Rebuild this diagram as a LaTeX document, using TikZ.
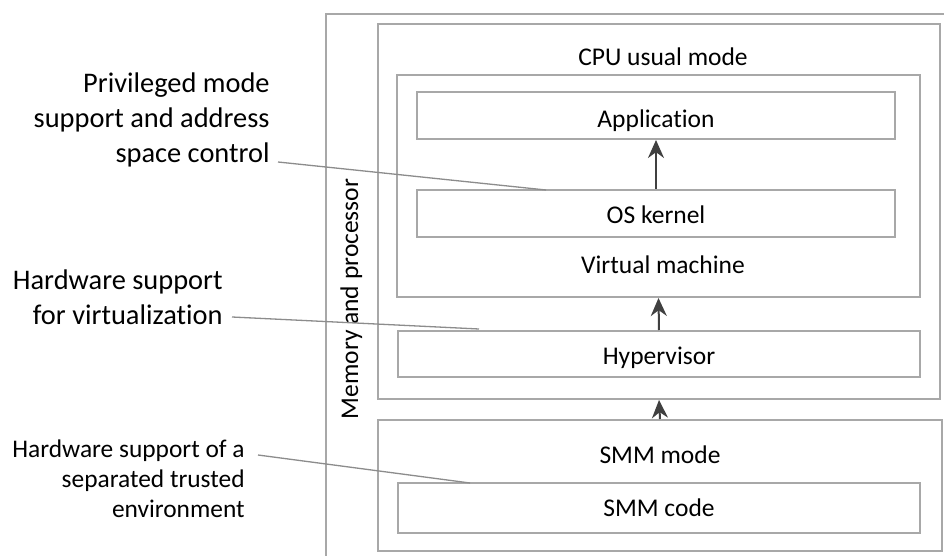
\documentclass[tikz,border=0pt]{standalone}
\usepackage{fontspec}
\setmainfont[Ligatures=NoCommon]{Carlito}
\usetikzlibrary{fit,arrows.meta}
\definecolor{boxline}{HTML}{A8A8A8}
\definecolor{leader}{HTML}{8C8C8C}
\definecolor{arrowc}{HTML}{404040}
\tikzset{
  layer/.style={draw=boxline, line width=1pt, inner sep=0pt},
  lbl/.style={font=\fontsize{12.75}{15}\selectfont, inner sep=0pt, text height=8.2pt, text depth=0pt},
  note/.style={font=\fontsize{14.2}{17.5}\selectfont, align=right, inner sep=0pt, anchor=east},
  notesmall/.style={font=\fontsize{12.7}{15}\selectfont, align=right, inner sep=0pt, anchor=east},
  leadline/.style={draw=leader, line width=0.65pt},
  uparrow/.style={draw=arrowc, line width=1pt, -{Stealth[length=9pt, width=8pt]}}
}
\begin{document}
\begin{tikzpicture}[x=0.5pt, y=-0.5pt]
  \useasboundingbox (0,0) rectangle (944,556);
  \clip (0,0) rectangle (944,556);
  \fill[white] (0,0) rectangle (944,556);

  % memory and processor frame (runs off the right and bottom)
  \node[layer, fit={(326,14) (960,570)}] (mem) {};
  \node[lbl, rotate=90] (memlbl) at (350,299) {Memory and processor};

  % CPU usual mode
  \node[layer, fit={(378,24) (940,399)}] (cpu) {};
  \node[lbl] (cpulbl) at (663,57) {CPU usual mode};
  \node[layer, fit={(397,75) (920,297)}] (vm) {};
  \node[lbl] (vmlbl) at (663,265) {Virtual machine};
  \node[layer, fit={(417,92) (895,139)}] (app) {};
  \node[lbl] (applbl) at ([yshift=-2pt]app.center) {Application};
  \node[layer, fit={(417,190) (895,237)}] (os) {};
  \node[lbl] (oslbl) at ([yshift=-1pt]os.center) {OS kernel};
  \node[layer, fit={(398,331) (920,377)}] (hyp) {};
  \node[lbl] (hyplbl) at ([yshift=-1pt]hyp.center) {Hypervisor};

  % SMM
  \node[layer, fit={(378,420) (942,551)}] (smm) {};
  \node[lbl] (smmlbl) at (660,455) {SMM mode};
  \node[layer, fit={(398,483) (920,533)}] (smmcode) {};
  \node[lbl] (smmcodelbl) at (smmcode.center) {SMM code};

  % arrows between levels
  \draw[uparrow] (os.north) -- (app.south);
  \draw[uparrow] (hyp.north) -- (vm.south);
  \draw[uparrow] (smm.north) -- (cpu.south);

  % side notes
  \node[note] (n1) at (270,120) {Privileged mode\\support and address\\space control};
  \node[note] (n2) at (223,297.5) {Hardware support\\for virtualization};
  \node[notesmall] (n3) at (245,479) {Hardware support of a\\separated trusted\\environment};

  \coordinate (n1s) at (278,162);
  \coordinate (n1e) at (546,190);
  \coordinate (n2s) at (232,317);
  \coordinate (n2e) at (479,329);
  \coordinate (n3s) at (258,455);
  \coordinate (n3e) at (470,483);
  \draw[leadline] (n1s) -- (n1e);
  \draw[leadline] (n2s) -- (n2e);
  \draw[leadline] (n3s) -- (n3e);
\end{tikzpicture}
\end{document}
